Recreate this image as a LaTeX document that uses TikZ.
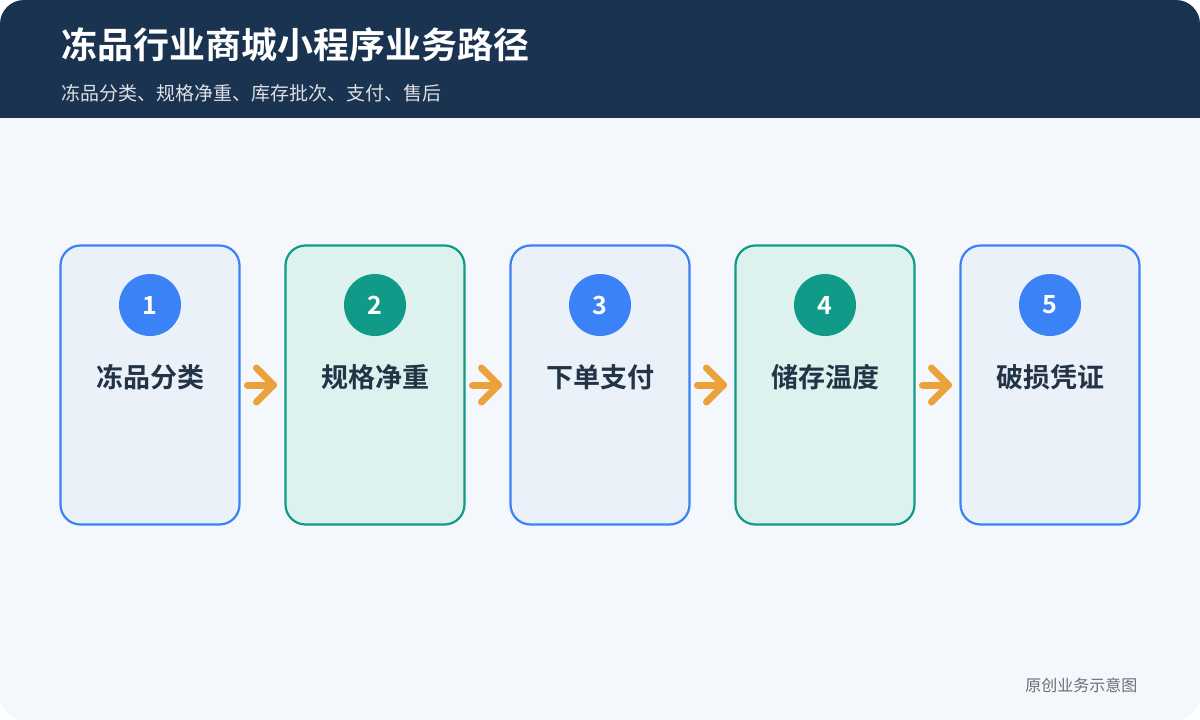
\documentclass[tikz,border=0pt]{standalone}
\usepackage{fontspec}
\newfontfamily\cjk{Noto Sans CJK SC}
\newfontfamily\cjkb{Noto Sans CJK SC Bold}
\setmainfont{Noto Sans}
\definecolor{navy}{HTML}{1A3350}
\definecolor{bgc}{HTML}{F4F7FC}
\definecolor{blu}{HTML}{3B82F6}
\definecolor{blufill}{HTML}{EAF1F8}
\definecolor{grn}{HTML}{109A88}
\definecolor{grnfill}{HTML}{DDF2EF}
\definecolor{arr}{HTML}{EBA23A}
\definecolor{txt}{HTML}{243447}
\begin{document}
\begin{tikzpicture}[x=1pt,y=-1pt,
  card/.style={draw=#1,line width=2.2pt,rounded corners=20pt,minimum width=179pt,minimum height=279pt},
  num/.style={circle,fill=#1,minimum size=62pt,inner sep=0pt,text=white,font=\cjkb\fontsize{25}{25}\selectfont},
  lab/.style={text=txt,font=\cjkb\fontsize{27}{27}\selectfont},
  arrow/.style={draw=arr,line width=7pt,line cap=round,line join=round}]
\useasboundingbox (0,0) rectangle (1200,720);
\fill[white] (0,0) rectangle (1200,720);
\fill[bgc,rounded corners=24pt] (0,0) rectangle (1200,720);
\fill[navy,rounded corners=24pt] (0,0) rectangle (1200,140);
\fill[bgc] (0,118) rectangle (1200,150);
\node[anchor=west,text=white,font=\cjkb\fontsize{36}{36}\selectfont] (title) at (58,45) {冻品行业商城小程序业务路径};
\node[anchor=west,text=white!85!navy,font=\cjk\fontsize{19}{19}\selectfont] (sub) at (58,93) {冻品分类、规格净重、库存批次、支付、售后};
\foreach \i/\x/\c/\f/\t in {1/60/blu/blufill/冻品分类,2/285/grn/grnfill/规格净重,3/510/blu/blufill/下单支付,4/735/grn/grnfill/储存温度,5/960/blu/blufill/破损凭证}{
  \node[card=\c,fill=\f] (b\i) at (\x+90,385) {};
  \node[num=\c] (n\i) at (\x+90,305) {\i};
  \node[lab] (l\i) at (\x+90,377) {\t};
}
\foreach \a/\b in {1/2,2/3,3/4,4/5}{
  \path (b\a.east) -- (b\b.west) coordinate[pos=0.5] (m\a);
  \draw[arrow] ([xshift=-15pt]m\a) -- ([xshift=11pt]m\a);
  \draw[arrow] ([xshift=-6pt,yshift=-17pt]m\a) -- ([xshift=11pt]m\a) -- ([xshift=-6pt,yshift=17pt]m\a);
}
\node[anchor=east,text=gray!80!navy,font=\cjk\fontsize{16}{16}\selectfont] (foot) at (1141,685) {原创业务示意图};
\end{tikzpicture}
\end{document}
